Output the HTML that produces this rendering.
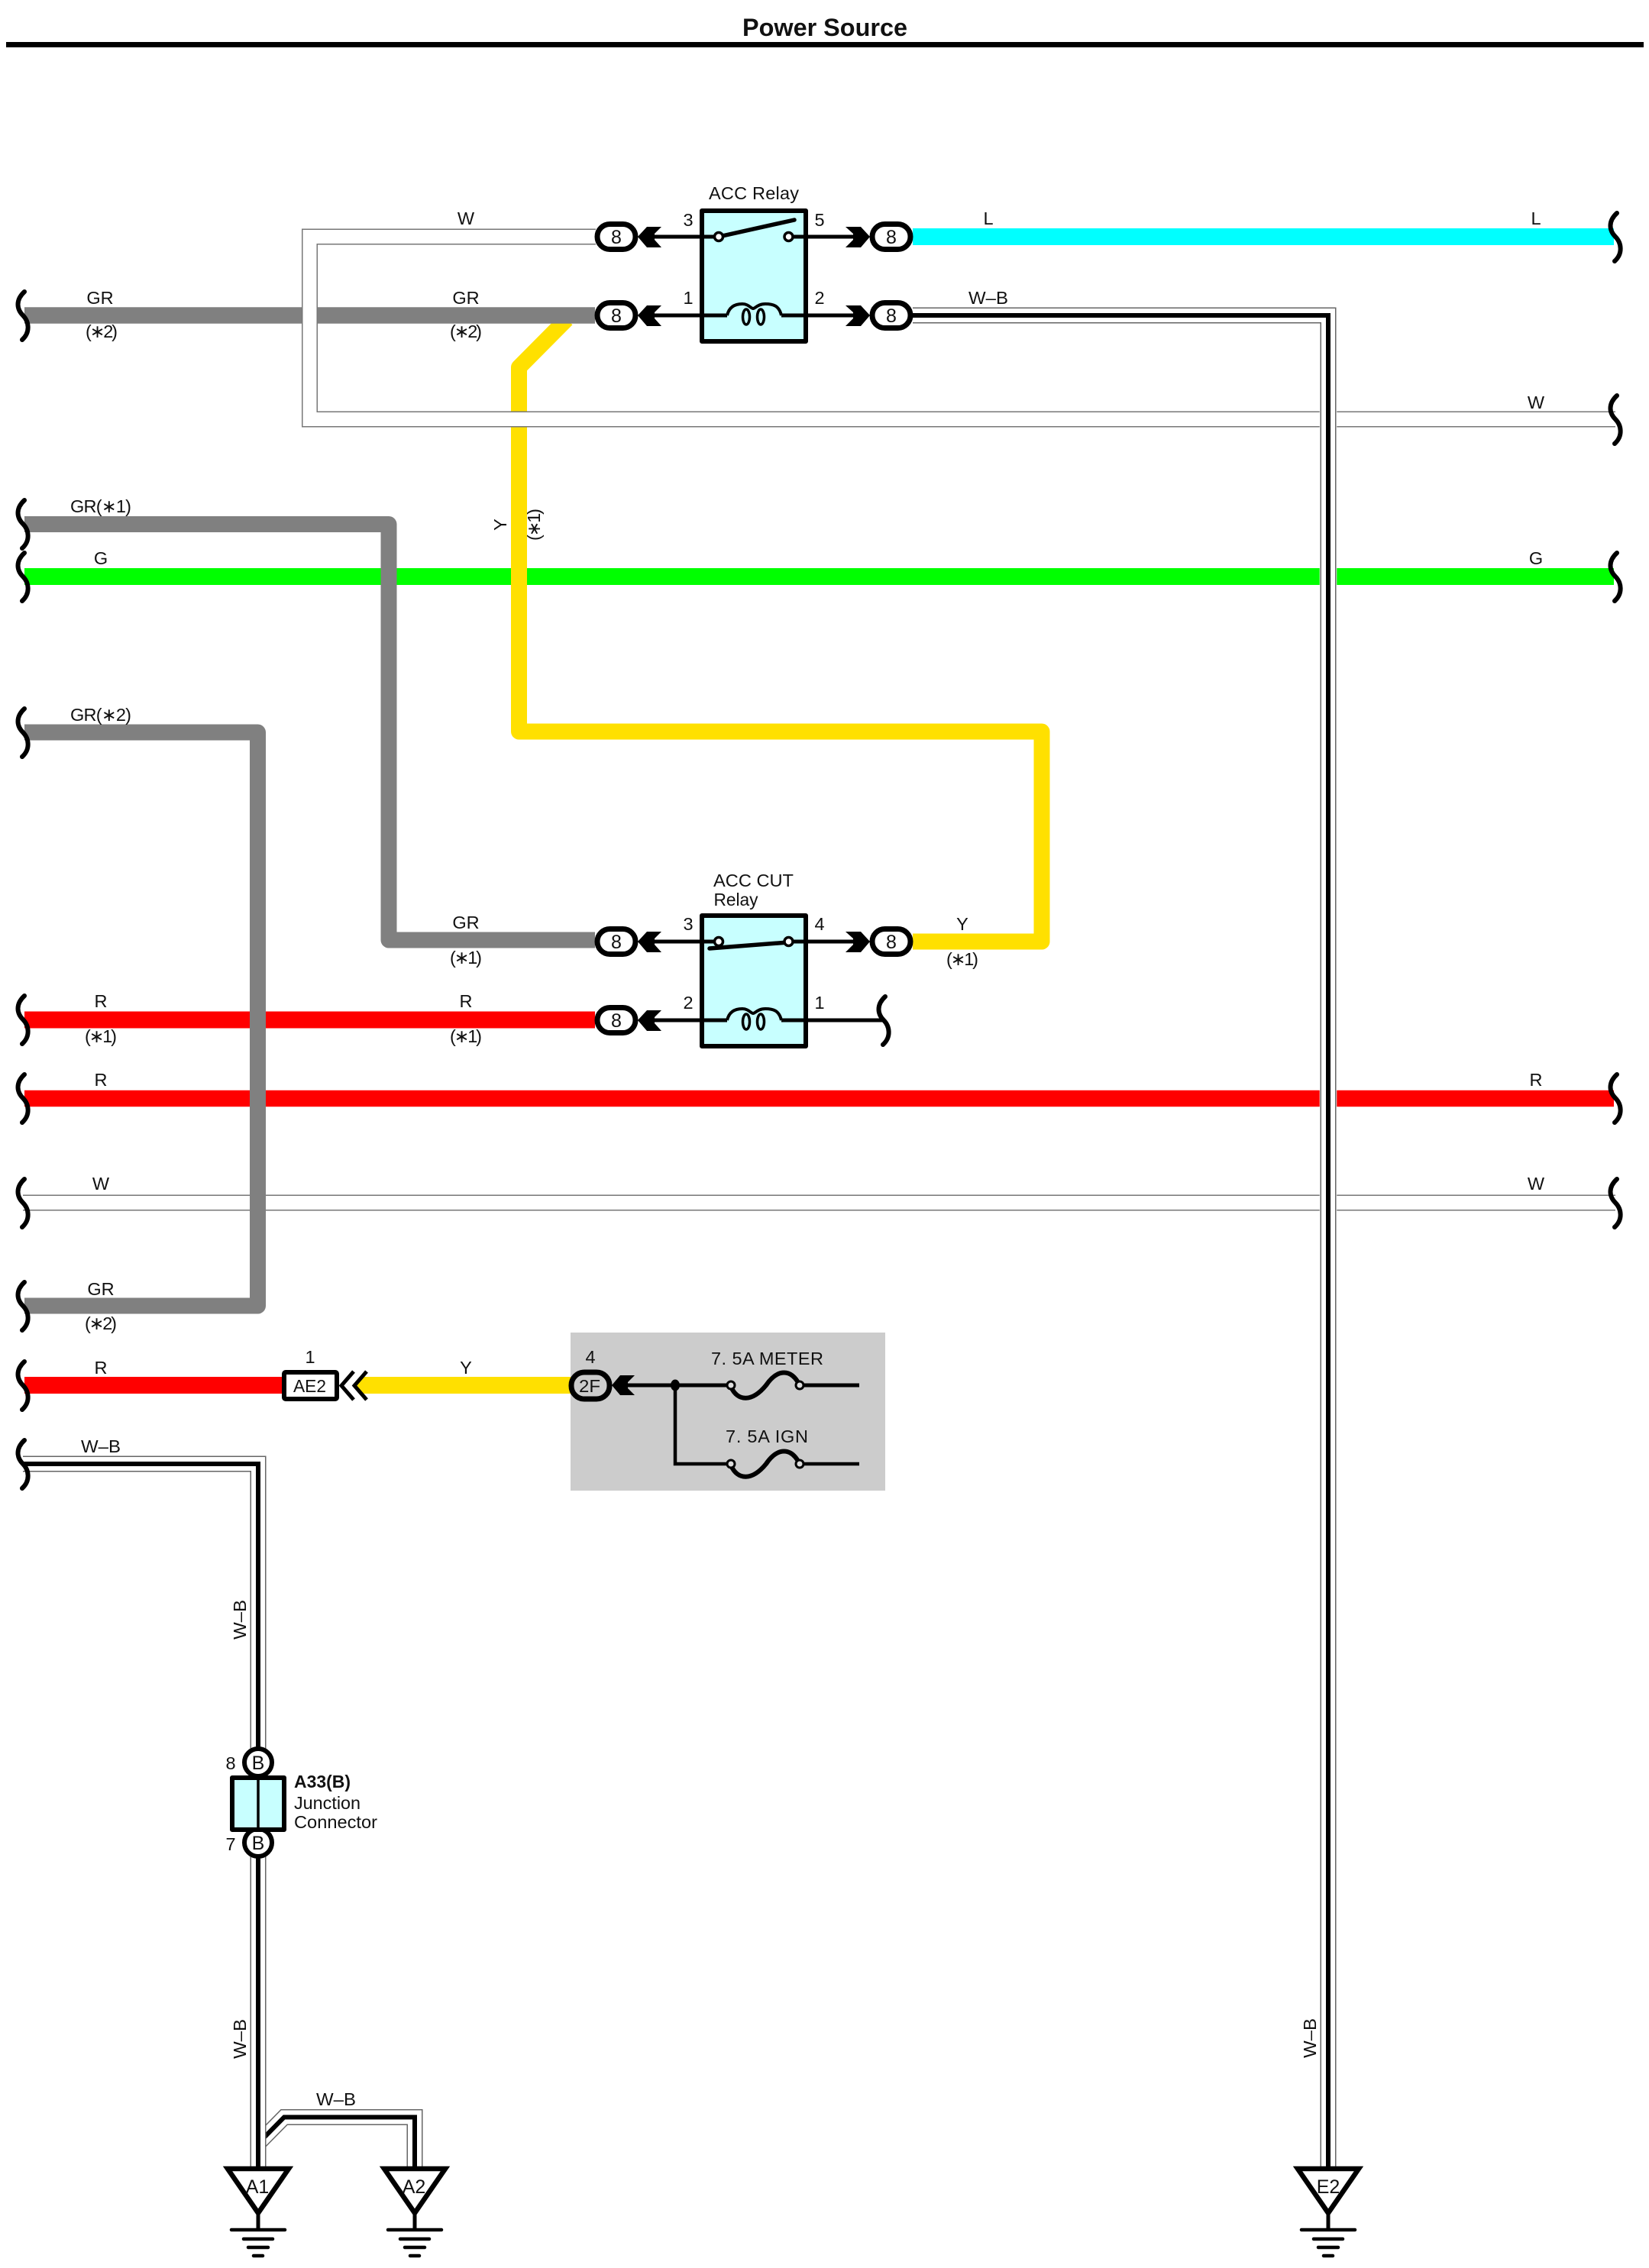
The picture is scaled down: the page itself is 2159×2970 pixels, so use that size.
<!DOCTYPE html>
<html><head><meta charset="utf-8"><title>Power Source</title>
<style>
html,body{margin:0;padding:0;background:#fff}
svg{display:block}
text{font-family:"Liberation Sans","DejaVu Sans",sans-serif;font-size:23.5px;fill:#111;text-anchor:middle}
.w{fill:none;stroke-linejoin:round;stroke-linecap:butt}
.m{fill:none;stroke-linejoin:miter;stroke-linecap:butt;stroke-miterlimit:10}
.sq{fill:none;stroke:#000;stroke-width:6;stroke-linecap:round}
.bk{fill:none;stroke:#000;stroke-width:5}
</style></head>
<body>
<svg width="2159" height="2970" viewBox="0 0 2159 2970" xmlns="http://www.w3.org/2000/svg">
<defs>
<path id="s" class="sq" d="M2,-31 C-10,-20 -8,-8 0,0 C8,8 10,22 -1,32"/>
<g id="conn"><rect x="-25" y="-16.5" width="50" height="33" rx="16.5" fill="#fff" stroke="#000" stroke-width="7"/></g>
<polygon id="chL" points="-1,0 11,-13 30,-13 21,-4 21,4 30,14 11,14" fill="#000"/>
<polygon id="chR" points="1,0 -11,-13 -31,-13 -21,-4 -21,4 -31,14 -11,14" fill="#000"/>
<g id="gnd">
<polygon points="-40,0 40,0 0,58" fill="#fff" stroke="#000" stroke-width="6.5" stroke-linejoin="miter"/>
<path d="M0,60V80" stroke="#000" stroke-width="5" fill="none"/>
<path d="M-35,80H35M-19,92H19M-13,103H13M-6,114H6" stroke="#000" stroke-width="4.5" stroke-linecap="round" fill="none"/>
</g>
</defs>

<rect width="2159" height="2970" fill="#fff"/>
<text x="1080" y="47" style="font-size:32.4px;font-weight:bold">Power Source</text>
<rect x="8" y="55" width="2144" height="7" fill="#000"/>

<!-- plain colour wires -->
<path class="w" d="M32,755H2113" stroke="#00ff00" stroke-width="22"/>
<path class="w" d="M32,1335.5H779" stroke="#ff0000" stroke-width="22"/>
<path class="w" d="M32,1438.5H2113" stroke="#ff0000" stroke-width="21.5"/>
<path class="w" d="M32,1814H372" stroke="#ff0000" stroke-width="22"/>
<polygon points="466,1814 476,1803 747,1803 747,1825 476,1825" fill="#ffe000"/>
<path class="w" d="M1195,310H2113" stroke="#00ffff" stroke-width="22"/>

<!-- W wire long -->
<path class="m" d="M30,1575H2115" stroke="#777" stroke-width="21"/>
<path class="m" d="M30,1575H2115" stroke="#fff" stroke-width="18"/>

<!-- Yellow wire -->
<path class="w" d="M742,418L679.5,481V958H1364V1233H1195" stroke="#ffe000" stroke-width="21"/>

<!-- gray wires -->
<path class="w" d="M32,413H779" stroke="#808080" stroke-width="21.5"/>
<path class="w" d="M32,686.5H509V1231H779" stroke="#808080" stroke-width="21"/>
<path class="w" d="M32,959H337.5V1710H32" stroke="#808080" stroke-width="21"/>

<!-- W loop wire -->
<path class="m" d="M780,310H405.5V549H2115" stroke="#777" stroke-width="21"/>
<path class="m" d="M780,310H405.5V549H2115" stroke="#fff" stroke-width="18"/>

<!-- W-B big wire -->
<path class="m" d="M1195,413H1739V2840" stroke="#fff" stroke-width="22.5"/>
<path class="m" d="M1195,413H1739V2840" stroke="#666" stroke-width="21"/>
<path class="m" d="M1195,413H1739V2840" stroke="#fff" stroke-width="18"/>
<path class="m" d="M1195,413H1739V2840" stroke="#000" stroke-width="6"/>

<!-- W-B branch -->
<path class="m" d="M338,2807L372,2772.5H543V2840" stroke="#666" stroke-width="21"/>
<path class="m" d="M338,2807L372,2772.5H543V2840" stroke="#fff" stroke-width="18"/>
<path class="m" d="M338,2807L372,2772.5H543V2840" stroke="#000" stroke-width="6"/>
<!-- W-B left wire -->
<path class="m" d="M30,1917H338V2840" stroke="#666" stroke-width="21"/>
<path class="m" d="M30,1917H338V2840" stroke="#fff" stroke-width="18"/>
<path class="m" d="M30,1917H338V2840" stroke="#000" stroke-width="6"/>

<!-- squiggles left -->
<use href="#s" x="30" y="413"/><use href="#s" x="30" y="686"/><use href="#s" x="30" y="755"/>
<use href="#s" x="30" y="959"/><use href="#s" x="30" y="1335"/><use href="#s" x="30" y="1438"/>
<use href="#s" x="30" y="1575"/><use href="#s" x="30" y="1710"/><use href="#s" x="30" y="1814"/>
<use href="#s" x="30" y="1917"/>
<!-- squiggles right -->
<use href="#s" x="2115" y="310"/><use href="#s" x="2115" y="549"/><use href="#s" x="2115" y="755"/>
<use href="#s" x="2115" y="1438"/><use href="#s" x="2115" y="1575"/>

<!-- ACC Relay -->
<path class="bk" d="M856,310H916M1057,310H1118M856,413H916M1057,413H1118"/>
<rect x="919" y="276" width="136" height="171" fill="#c8ffff" stroke="#000" stroke-width="6" stroke-linejoin="round"/>
<path class="bk" d="M916,310H941M1032,310H1057M916,413H952M1023,413H1057"/>
<path d="M941,310L1040,288" stroke="#000" stroke-width="5.5" stroke-linecap="round"/>
<circle cx="941" cy="310" r="5.5" fill="#fff" stroke="#000" stroke-width="3.5"/>
<circle cx="1032.5" cy="310" r="5.5" fill="#fff" stroke="#000" stroke-width="3.5"/>
<path d="M952,413C955,400 965,398 972,398C980,398 983,404 986,404C989,404 992,398 1002,398C1012,398 1020,400 1023,413" fill="none" stroke="#000" stroke-width="4"/>
<ellipse cx="977" cy="415" rx="4.5" ry="10" fill="none" stroke="#000" stroke-width="3.5"/>
<ellipse cx="996" cy="415" rx="4.5" ry="10" fill="none" stroke="#000" stroke-width="3.5"/>

<!-- ACC CUT Relay -->
<path class="bk" d="M856,1233H916M1057,1233H1118M856,1336H916M1057,1336H1157"/>
<rect x="919" y="1199" width="136" height="171" fill="#c8ffff" stroke="#000" stroke-width="6" stroke-linejoin="round"/>
<path class="bk" d="M916,1233H941M1032,1233H1057M916,1336H952M1023,1336H1057"/>
<path d="M929,1242L1032,1234" stroke="#000" stroke-width="5.5" stroke-linecap="round"/>
<circle cx="941" cy="1233" r="5.5" fill="#fff" stroke="#000" stroke-width="3.5"/>
<circle cx="1032.5" cy="1233" r="5.5" fill="#fff" stroke="#000" stroke-width="3.5"/>
<path d="M952,1336C955,1323 965,1321 972,1321C980,1321 983,1327 986,1327C989,1327 992,1321 1002,1321C1012,1321 1020,1323 1023,1336" fill="none" stroke="#000" stroke-width="4"/>
<ellipse cx="977" cy="1338" rx="4.5" ry="10" fill="none" stroke="#000" stroke-width="3.5"/>
<ellipse cx="996" cy="1338" rx="4.5" ry="10" fill="none" stroke="#000" stroke-width="3.5"/>
<use href="#s" x="1157" y="1336"/>

<!-- connectors and chevrons -->
<use href="#conn" x="807" y="310"/><use href="#conn" x="807" y="413"/>
<use href="#conn" x="1167" y="310"/><use href="#conn" x="1167" y="413"/>
<use href="#conn" x="807" y="1233"/><use href="#conn" x="807" y="1336"/>
<use href="#conn" x="1167" y="1233"/>
<use href="#chL" x="836" y="310"/><use href="#chL" x="836" y="413"/>
<use href="#chL" x="836" y="1233"/><use href="#chL" x="836" y="1336"/>
<use href="#chR" x="1138" y="310"/><use href="#chR" x="1138" y="413"/>
<use href="#chR" x="1138" y="1233"/>
<g>
<text x="807" y="319" style="font-size:25px">8</text><text x="807" y="422" style="font-size:25px">8</text>
<text x="1167" y="319" style="font-size:25px">8</text><text x="1167" y="422" style="font-size:25px">8</text>
<text x="807" y="1242" style="font-size:25px">8</text><text x="807" y="1345" style="font-size:25px">8</text>
<text x="1167" y="1242" style="font-size:25px">8</text>
</g>

<!-- AE2 -->
<rect x="372" y="1797" width="69" height="35" rx="2" fill="#fff" stroke="#000" stroke-width="6"/>
<path d="M463,1796L447,1814.5L463,1833M480,1796L464,1814.5L480,1833" fill="none" stroke="#000" stroke-width="5"/>
<text x="405.5" y="1823" textLength="43" lengthAdjust="spacingAndGlyphs">AE2</text>

<!-- fuse box -->
<rect x="747" y="1745" width="412" height="207" fill="#cccccc"/>
<rect x="748" y="1797" width="50" height="35" rx="17" fill="#cccccc" stroke="#000" stroke-width="7"/>
<text x="772" y="1823" textLength="28" lengthAdjust="spacingAndGlyphs">2F</text>
<polygon points="801,1814 812,1801 831,1801 822,1810 822,1818 831,1827 812,1827" fill="#000"/>
<path d="M820,1814H952M1052,1814H1125" fill="none" stroke="#000" stroke-width="5"/>
<path d="M884,1814V1917H952M1052,1917H1125" fill="none" stroke="#000" stroke-width="4.5"/>
<ellipse cx="884" cy="1814" rx="6" ry="7.5" fill="#000"/>
<path d="M957,1816C966,1836 985,1836 1003,1814C1018,1792 1036,1792 1047,1814" fill="none" stroke="#000" stroke-width="6"/>
<path d="M957,1919C966,1939 985,1939 1003,1917C1018,1895 1036,1895 1047,1917" fill="none" stroke="#000" stroke-width="6"/>
<circle cx="957" cy="1814" r="5" fill="#ddd" stroke="#000" stroke-width="3"/>
<circle cx="1047" cy="1814" r="5" fill="#ddd" stroke="#000" stroke-width="3"/>
<circle cx="957" cy="1917" r="5" fill="#ddd" stroke="#000" stroke-width="3"/>
<circle cx="1047" cy="1917" r="5" fill="#ddd" stroke="#000" stroke-width="3"/>
<text x="1004.5" y="1787" textLength="147" lengthAdjust="spacing">7. 5A METER</text>
<text x="1004" y="1889" textLength="108" lengthAdjust="spacing">7. 5A IGN</text>
<text x="773" y="1785">4</text>
<text x="406" y="1785">1</text>

<!-- Junction connector -->
<circle cx="338" cy="2308" r="18" fill="#fff" stroke="#000" stroke-width="6"/>
<circle cx="338" cy="2413" r="18" fill="#fff" stroke="#000" stroke-width="6"/>
<rect x="304" y="2328" width="68" height="68" fill="#c8ffff" stroke="#000" stroke-width="6" stroke-linejoin="round"/>
<path d="M338,2328V2396" stroke="#000" stroke-width="3.5"/>
<text x="338" y="2317" style="font-size:25px">B</text>
<text x="338" y="2422" style="font-size:25px">B</text>
<text x="302" y="2317">8</text>
<text x="302" y="2423">7</text>
<text x="385" y="2341" style="text-anchor:start;font-weight:bold" textLength="74" lengthAdjust="spacingAndGlyphs">A33(B)</text>
<text x="385" y="2369" style="text-anchor:start" textLength="87" lengthAdjust="spacingAndGlyphs">Junction</text>
<text x="385" y="2394" style="text-anchor:start" textLength="109" lengthAdjust="spacingAndGlyphs">Connector</text>

<!-- Grounds -->
<use href="#gnd" x="338" y="2840"/>
<use href="#gnd" x="543" y="2840"/>
<use href="#gnd" x="1739" y="2840"/>
<text x="337" y="2872" style="font-size:25px">A1</text>
<text x="542" y="2872" style="font-size:25px">A2</text>
<text x="1739" y="2872" style="font-size:25px">E2</text>

<!-- wire labels -->
<text x="610" y="294">W</text>
<text x="1294" y="294">L</text>
<text x="2011" y="294">L</text>
<text x="131" y="398">GR</text>
<text x="610" y="398">GR</text>
<text x="133" y="442" textLength="42" lengthAdjust="spacing">(∗2)</text>
<text x="610" y="442" textLength="42" lengthAdjust="spacing">(∗2)</text>
<text x="1294" y="398" textLength="52" lengthAdjust="spacingAndGlyphs">W–B</text>
<text x="2011" y="535">W</text>
<text x="132" y="671" textLength="80" lengthAdjust="spacing">GR(∗1)</text>
<text x="132" y="739">G</text>
<text x="2011" y="739">G</text>
<text x="132" y="944" textLength="80" lengthAdjust="spacing">GR(∗2)</text>
<text x="610" y="1216">GR</text>
<text x="610" y="1262" textLength="42" lengthAdjust="spacing">(∗1)</text>
<text x="1260" y="1218">Y</text>
<text x="1260" y="1264" textLength="42" lengthAdjust="spacing">(∗1)</text>
<text x="132" y="1319">R</text>
<text x="132" y="1365" textLength="42" lengthAdjust="spacing">(∗1)</text>
<text x="610" y="1319">R</text>
<text x="610" y="1365" textLength="42" lengthAdjust="spacing">(∗1)</text>
<text x="132" y="1422">R</text>
<text x="2011" y="1422">R</text>
<text x="132" y="1558">W</text>
<text x="2011" y="1558">W</text>
<text x="132" y="1696">GR</text>
<text x="132" y="1741" textLength="42" lengthAdjust="spacing">(∗2)</text>
<text x="132" y="1799">R</text>
<text x="610" y="1799">Y</text>
<text x="132" y="1902" textLength="52" lengthAdjust="spacingAndGlyphs">W–B</text>
<text x="440" y="2757" textLength="52" lengthAdjust="spacingAndGlyphs">W–B</text>
<text transform="translate(663,687) rotate(-90)">Y</text>
<text transform="translate(707,687) rotate(-90)" textLength="42" lengthAdjust="spacing">(∗1)</text>
<text transform="translate(322,2121) rotate(-90)" textLength="52" lengthAdjust="spacingAndGlyphs">W–B</text>
<text transform="translate(322,2670) rotate(-90)" textLength="52" lengthAdjust="spacingAndGlyphs">W–B</text>
<text transform="translate(1723,2669) rotate(-90)" textLength="52" lengthAdjust="spacingAndGlyphs">W–B</text>

<!-- relay labels -->
<text x="987" y="261" textLength="118" lengthAdjust="spacing">ACC Relay</text>
<text x="901" y="296">3</text><text x="1073" y="296">5</text>
<text x="901" y="398">1</text><text x="1073" y="398">2</text>
<text x="986.5" y="1161" textLength="105" lengthAdjust="spacingAndGlyphs">ACC CUT</text>
<text x="963.5" y="1186" textLength="58" lengthAdjust="spacingAndGlyphs">Relay</text>
<text x="901" y="1218">3</text><text x="1073" y="1218">4</text>
<text x="901" y="1321">2</text><text x="1073" y="1321">1</text>
</svg>
</body></html>
